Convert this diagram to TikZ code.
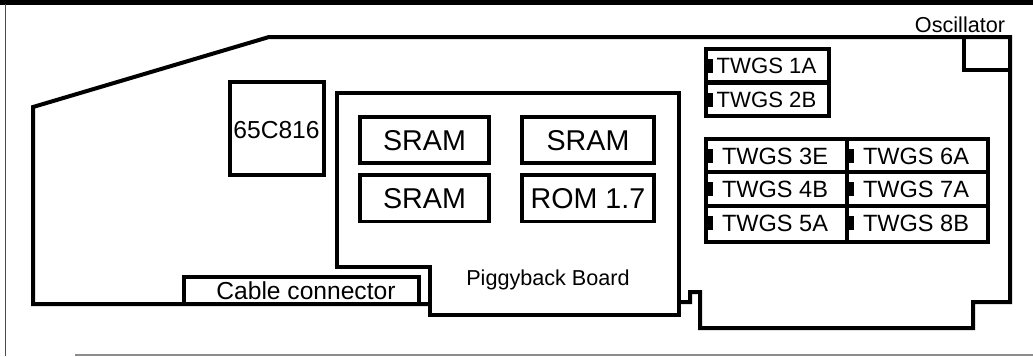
\documentclass[tikz,border=0pt]{standalone}
\usepackage{fontspec}
\setmainfont{Liberation Sans}
\usepackage{tikz}
\tikzset{
  chipbox/.style={draw,line width=0.08cm,inner sep=0pt,outer sep=0pt,anchor=north west},
  bigfont/.style={font=\fontsize{16.3}{18}\selectfont},
  midfont/.style={font=\fontsize{14}{16}\selectfont},
  twgsfont/.style={font=\fontsize{13.4}{15}\selectfont},
  topfont/.style={font=\fontsize{12.6}{15}\selectfont},
  smallfont/.style={font=\fontsize{12.3}{14}\selectfont},
  notch/.style={fill=black,inner sep=0pt,minimum width=0.1cm,minimum height=0.28cm},
}
\begin{document}
\begin{tikzpicture}[x=0.02cm,y=-0.02cm]
      \useasboundingbox (0,0) rectangle (1033,356);
      % frame of the page
      \fill (0,0) rectangle (1033,4.5);
      \draw[line width=0.02cm,color=black!70] (5.5,4) -- (5.5,356);
      \draw[line width=0.03cm,color=black!45] (75,355) -- (1033,355);
      % board and piggyback outline
      \draw[line width=0.08cm,line join=miter]
            (430,304) -- (33,304) -- (33,107) -- (269,37) -- (1010,37)
            -- (1010,302) -- (973,302) -- (973,328) -- (700,328)
            -- (700,292) -- (690,292) -- (690,302) -- (679,302);
      \draw[line width=0.08cm,line join=miter]
            (337,267) -- (337,93) -- (679,93) -- (679,315) -- (430,315)
            -- (430,267) -- cycle;
      \node[smallfont] (piggyback) at (548,280) {Piggyback Board};
      \node[chipbox,midfont,minimum width=4.7cm,minimum height=0.54cm] (cable) at (184,277) {\hspace{0.18cm}Cable connector};
      \node[chipbox,minimum width=1.9cm,minimum height=1.87cm] (cpu) at (229.5,82) {};
      \node[midfont] (cpulabel) at (276.5,130) {65C816};
      % memory
      \node[chipbox,bigfont,minimum width=2.58cm,minimum height=0.93cm] (sramA) at (360,117) {SRAM};
      \node[chipbox,bigfont,minimum width=2.58cm,minimum height=0.93cm] (sramB) at (360,175) {SRAM};
      \node[chipbox,bigfont,minimum width=2.64cm,minimum height=0.93cm] (sramC) at (522,117) {SRAM};
      \node[chipbox,bigfont,minimum width=2.64cm,minimum height=0.93cm] (rom) at (522,175) {ROM 1.7};
      % oscillator
      \node[chipbox,minimum width=0.92cm,minimum height=0.66cm] (osc) at (964,37) {};
      \node[smallfont] (osclabel) at (960,25) {Oscillator};
      % sockets
      \foreach \name/\txt/\yy in {one/TWGS 1A/49,two/TWGS 2B/83}{
        \node[chipbox,minimum width=2.46cm,minimum height=0.66cm] (\name) at (706,\yy) {};
        \node[topfont] at (766.5,\yy+17) {\txt};
        \node[notch] at (710,\yy+17) {};
      }
      \foreach \name/\txt/\yy/\hh/\xx in {three/TWGS 3E/139/0.66/706,four/TWGS 4B/172/0.68/706,five/TWGS 5A/206/0.72/706,
            six/TWGS 6A/139/0.66/847,seven/TWGS 7A/172/0.68/847,eight/TWGS 8B/206/0.72/847}{
        \node[chipbox,minimum width=2.82cm,minimum height=\hh cm] (\name) at (\xx,\yy) {};
        \node[twgsfont] at (\xx+69,\yy+17) {\txt};
        \node[notch] at (\xx+4.5,\yy+17) {};
      }
\end{tikzpicture}
\end{document}
